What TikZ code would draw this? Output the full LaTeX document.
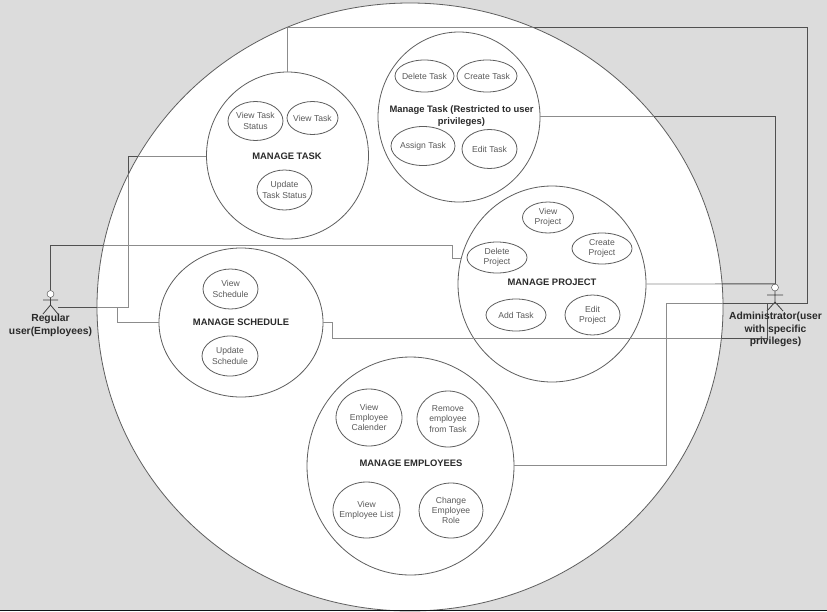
\documentclass[tikz,border=0pt]{standalone}
\usepackage{fontspec}
\setmainfont{Liberation Sans}
\usetikzlibrary{shapes.geometric}
\definecolor{pagegray}{HTML}{DCDCDC}
\definecolor{wiredark}{HTML}{505050}
\definecolor{wirelight}{HTML}{8C8C8C}
\definecolor{edgegray}{HTML}{5E5E5E}
\definecolor{smalltext}{HTML}{5A5A5A}
\definecolor{boldtext}{HTML}{2A2A2A}
\definecolor{bandblack}{HTML}{101416}
\tikzset{
  x=1pt,y=-1pt,
  world/.style={ellipse,draw=edgegray,line width=0.8pt,fill=white,inner sep=0pt},
  group/.style={ellipse,draw=edgegray,line width=0.8pt,inner sep=0pt},
  case/.style={ellipse,draw=edgegray,line width=0.8pt,inner xsep=-8pt,inner ysep=-3pt,text=smalltext,align=center,font=\fontsize{8.6}{10.4}\selectfont},
  title/.style={text=boldtext,align=center,font=\fontsize{9.4}{12}\selectfont\bfseries,inner sep=0pt},
  actorlabel/.style={text=boldtext,align=center,font=\fontsize{10.3}{12.6}\selectfont\bfseries,inner sep=0pt},
  actorline/.style={draw=black!75,line width=0.8pt},
  actorhead/.style={draw=black!75,fill=white,circle,inner sep=0pt,minimum size=7pt},
}
\newcommand{\wirepaths}[2]{%
  \draw[#1,line width=#2] (rhead.north) -- (r1) -- (r2) -- (r2b) -- (r2c);
  \draw[#1,line width=#2] (r3) -- (r4) -- (r5) -- (mt.west |- r5);
  \draw[#1,line width=#2] (r6) -- (r7) -- (ms.west |- r7);
  \draw[#1,line width=#2] (mt.north) -- (a1) -- (a2) -- (a3) -- (a4) -- (a5) -- (me.east |- a5);
  \draw[#1,line width=#2] (a6) -- (a7) -- (a8) -- (a9) -- (ms.east |- a9);
  \draw[#1,line width=#2] (mr.east |- a10) -- (a10) -- (ahead.north);
  \draw[#1,line width=#2] (mp.east) -- (ahead.north);
}
\begin{document}
\begin{tikzpicture}
\useasboundingbox (0,0) rectangle (827,611);
\fill[pagegray] (0,0) rectangle (827,611);
\node[world,minimum width=626pt,minimum height=608pt] (world) at (410,307) {};
\fill[bandblack] (0,610) rectangle (827,611);

% groups
\node[group,minimum width=162pt,minimum height=167pt] (mt) at (287.5,155.5) {};
\node[group,minimum width=162pt,minimum height=170pt] (mr) at (459,117) {};
\node[group,minimum width=188pt,minimum height=196pt] (mp) at (552,284) {};
\node[group,minimum width=164pt,minimum height=149pt] (ms) at (241,322.5) {};
\node[group,minimum width=207pt,minimum height=218pt] (me) at (410.5,466) {};

% actors
\node[actorhead] (rhead) at (50.5,294) {};
\coordinate (rhip) at (50.5,305);
\coordinate (rarml) at (43,300);
\coordinate (rarmr) at (58,300);
\coordinate (rlegl) at (43,314);
\coordinate (rlegr) at (58,314);
\draw[actorline] (rhead.south) -- (rhip) (rarml) -- (rarmr) (rlegl) -- (rhip) -- (rlegr);

\node[actorhead] (ahead) at (775,287.5) {};
\coordinate (ahip) at (775,302);
\coordinate (aarml) at (767,295);
\coordinate (aarmr) at (783,295);
\coordinate (alegl) at (767,311);
\coordinate (alegr) at (783,311);
\draw[actorline] (ahead.south) -- (ahip) (aarml) -- (aarmr) (alegl) -- (ahip) -- (alegr);

% connector bends
\coordinate (r1) at (50.5,245);
\coordinate (r2) at (452,245);
\coordinate (r2b) at (452,258);
\coordinate (r2c) at (461,258);
\coordinate (r3) at (58,307);
\coordinate (r4) at (128,307);
\coordinate (r5) at (128,156);
\coordinate (r6) at (117,307);
\coordinate (r7) at (117,322);
\coordinate (a1) at (287.5,27);
\coordinate (a2) at (807,27);
\coordinate (a3) at (807,303);
\coordinate (a4) at (666,303);
\coordinate (a5) at (666,465);
\coordinate (a6) at (767,303);
\coordinate (a7) at (767,338);
\coordinate (a8) at (332,338);
\coordinate (a9) at (332,322);
\coordinate (a10) at (775,116);

% connectors: pale on the white disc, dark on the grey page
\begin{scope}
  \clip (410,307) ellipse [x radius=313, y radius=304];
  \wirepaths{wirelight}{0.8pt}
\end{scope}
\begin{scope}[even odd rule]
  \clip (0,0) rectangle (827,611) (410,307) ellipse [x radius=313, y radius=304];
  \wirepaths{wiredark}{1pt}
\end{scope}

% titles
\node[title] (tmt) at (287,156) {MANAGE TASK};
\node[title] (tmr) at (461.5,116) {Manage Task (Restricted to user\\privileges)};
\node[title] (tmp) at (552,282) {MANAGE PROJECT};
\node[title] (tms) at (241,322) {MANAGE SCHEDULE};
\node[title] (tme) at (411,463) {MANAGE EMPLOYEES};

% use cases
\node[case,minimum width=55pt,minimum height=39pt] (c1) at (255.5,121) {View Task\\Status};
\node[case,minimum width=51pt,minimum height=33pt] (c2) at (312.5,118) {View Task};
\node[case,minimum width=55pt,minimum height=40pt] (c3) at (284.5,190) {Update\\Task Status};
\node[case,minimum width=59pt,minimum height=32pt] (c4) at (424.5,76) {Delete Task};
\node[case,minimum width=60pt,minimum height=32pt] (c5) at (487,76) {Create Task};
\node[case,minimum width=64pt,minimum height=39pt] (c6) at (423,146) {Assign Task};
\node[case,minimum width=55pt,minimum height=39pt] (c7) at (489.5,149) {Edit Task};
\node[case,minimum width=51pt,minimum height=31pt] (c8) at (548,217.5) {View\\Project};
\node[case,minimum width=60pt,minimum height=31pt] (c9) at (602,248.5) {Create\\Project};
\node[case,minimum width=60pt,minimum height=31pt] (c10) at (497,257.5) {Delete\\Project};
\node[case,minimum width=60pt,minimum height=32pt] (c11) at (516,315) {Add Task};
\node[case,minimum width=55pt,minimum height=40pt] (c12) at (592.5,315) {Edit\\Project};
\node[case,minimum width=55pt,minimum height=40pt] (c13) at (230.5,289) {View\\Schedule};
\node[case,minimum width=56pt,minimum height=40pt] (c14) at (230,356) {Update\\Schedule};
\node[case,minimum width=66pt,minimum height=57pt] (c15) at (369,417.5) {View\\Employee\\Calender};
\node[case,minimum width=62pt,minimum height=56pt] (c16) at (448,419) {Remove\\employee\\from Task};
\node[case,minimum width=67pt,minimum height=56pt] (c17) at (366.5,510) {View\\Employee List};
\node[case,minimum width=64pt,minimum height=55pt] (c18) at (451,510.5) {Change\\Employee\\Role};

% actor labels
\node[actorlabel] (lr) at (50.5,325.5) {Regular\\user(Employees)};
\node[actorlabel] (la) at (775.5,329.5) {Administrator(user\\with specific\\privileges)};
\end{tikzpicture}
\end{document}
